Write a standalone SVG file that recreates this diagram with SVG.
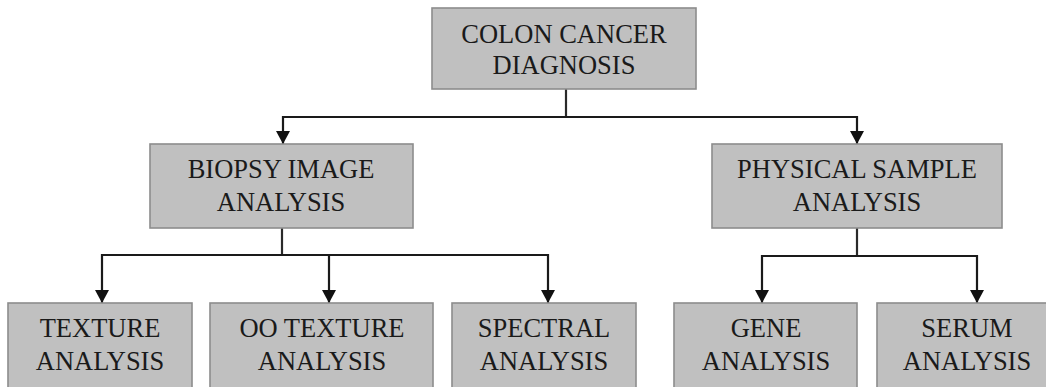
<svg xmlns="http://www.w3.org/2000/svg" width="1046" height="387" viewBox="0 0 1046 387">
<defs>
<marker id="arr" markerUnits="userSpaceOnUse" markerWidth="14" markerHeight="14" viewBox="0 0 14 14" refX="13" refY="7" orient="auto">
<path d="M0,0 L13,7 L0,14 Z" fill="#111"/>
</marker>
<style>
.box{fill:#c0c0c0;stroke:#8c8c8c;stroke-width:1.6}
.t{font-family:"Liberation Serif","Times New Roman",serif;font-size:26.5px;fill:#1a1a1a;text-anchor:middle}
.ln{fill:none;stroke:#2a2a2a;stroke-width:2.2}
.ar{fill:none;stroke:#1a1a1a;stroke-width:2.2;marker-end:url(#arr)}
</style>
</defs>
<rect width="1046" height="387" fill="#fff"/>
<g id="connectors">
<path class="ln" d="M566,89 V117"/>
<path class="ar" d="M566,117 H283 V144"/>
<path class="ar" d="M566,117 H857 V144"/>
<path class="ln" d="M282,228 V255"/>
<path class="ar" d="M282,255 H102 V303"/>
<path class="ar" d="M282,255 H329 V303"/>
<path class="ar" d="M282,255 H548 V303"/>
<path class="ln" d="M857,228 V256"/>
<path class="ar" d="M857,256 H762 V303"/>
<path class="ar" d="M857,256 H977 V303"/>
</g>
<g id="colon">
<rect class="box" x="432" y="8" width="264" height="81"/>
<text class="t" x="564" y="43">COLON CANCER</text>
<text class="t" x="564" y="74">DIAGNOSIS</text>
</g>
<g id="biopsy">
<rect class="box" x="150" y="144" width="263" height="84"/>
<text class="t" x="281" y="178">BIOPSY IMAGE</text>
<text class="t" x="281" y="211">ANALYSIS</text>
</g>
<g id="physical">
<rect class="box" x="712" y="144" width="290" height="84"/>
<text class="t" x="857" y="178">PHYSICAL SAMPLE</text>
<text class="t" x="857" y="211">ANALYSIS</text>
</g>
<g id="texture">
<rect class="box" x="8" y="303" width="184" height="100"/>
<text class="t" x="100" y="337">TEXTURE</text>
<text class="t" x="100" y="370">ANALYSIS</text>
</g>
<g id="ootexture">
<rect class="box" x="210" y="303" width="223" height="100"/>
<text class="t" x="322" y="337">OO TEXTURE</text>
<text class="t" x="322" y="370">ANALYSIS</text>
</g>
<g id="spectral">
<rect class="box" x="452" y="303" width="184" height="100"/>
<text class="t" x="544" y="337">SPECTRAL</text>
<text class="t" x="544" y="370">ANALYSIS</text>
</g>
<g id="gene">
<rect class="box" x="674" y="303" width="183" height="100"/>
<text class="t" x="766" y="337">GENE</text>
<text class="t" x="766" y="370">ANALYSIS</text>
</g>
<g id="serum">
<rect class="box" x="877" y="303" width="184" height="100"/>
<text class="t" x="967" y="337">SERUM</text>
<text class="t" x="967" y="370">ANALYSIS</text>
</g>
</svg>
